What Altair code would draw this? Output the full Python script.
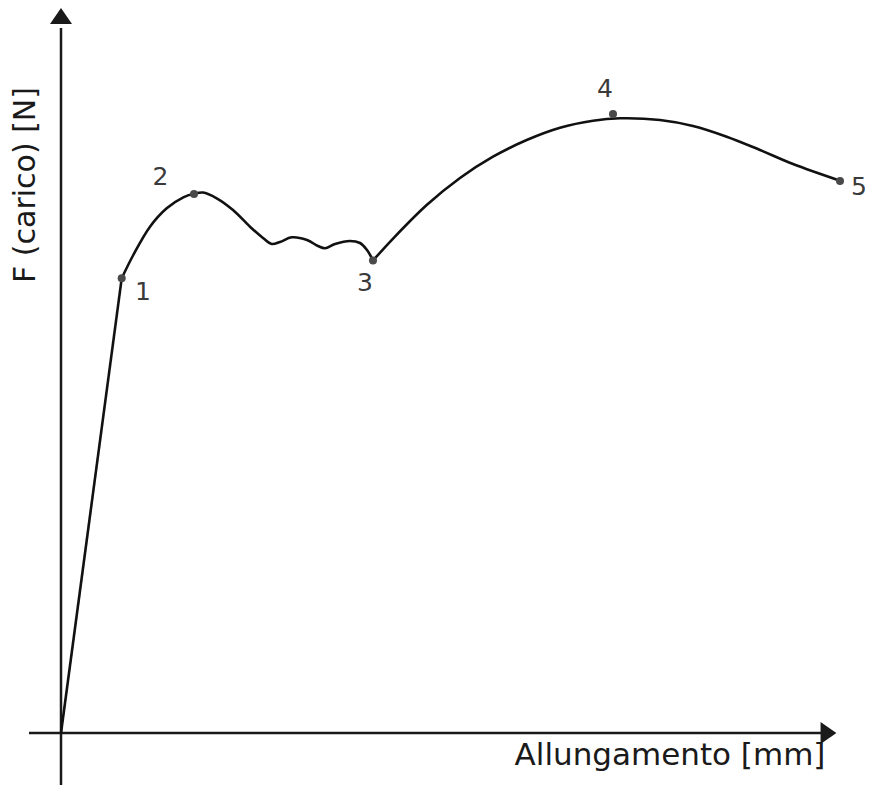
import altair as alt
import pandas as pd

# Curve values (Allungamento, F), arbitrary units
seg_a_x = [0.0, 6.07]
seg_a_y = [0.0, 45.47]

seg_b_x = [6.07, 7.23, 8.9, 10.57, 12.23, 13.3, 14.2, 15.57, 17.2, 18.9, 20.2, 21.07,
           21.9, 23.07, 24.6, 25.7, 26.4, 27.4, 28.9, 29.9, 30.6, 31.2]
seg_b_y = [45.47, 47.8, 50.63, 52.47, 53.57, 53.92, 54.05, 53.47, 52.3, 50.63, 49.5, 48.9,
           49.1, 49.57, 49.3, 48.7, 48.47, 48.9, 49.2, 49.0, 48.3, 47.25]

seg_c_x = [31.2, 33.23, 36.57, 39.9, 43.2, 46.57, 49.9, 53.2, 55.9, 59.9, 63.2, 66.57,
           69.9, 73.2, 77.9]
seg_c_y = [47.25, 49.47, 52.8, 55.5, 57.63, 59.3, 60.53, 61.23, 61.47, 61.3, 60.7, 59.63,
           58.3, 56.9, 55.23]

pt_labels = ["1", "2", "3", "4", "5"]
pt_x = [6.07, 13.3, 31.2, 55.2, 77.9]
pt_y = [45.47, 53.9, 47.25, 61.9, 55.2]
lab_x = [8.2, 9.95, 30.4, 54.4, 79.8]
lab_y = [44.1, 55.6, 45.0, 64.4, 54.6]

x_title = "Allungamento [mm]"
y_title = "F (carico) [N]"

X_DOM = [-5.3, 80.5]
Y_DOM = [-5.2, 72.5]
xs = alt.Scale(domain=X_DOM, nice=False, zero=False)
ys = alt.Scale(domain=Y_DOM, nice=False, zero=False)

rows = []
for seg, xx, yy in (("a", seg_a_x, seg_a_y), ("b", seg_b_x, seg_b_y), ("c", seg_c_x, seg_c_y)):
    for i, (a, b) in enumerate(zip(xx, yy)):
        rows.append({"seg": seg, "o": i, "x": a, "y": b})
curve_df = pd.DataFrame(rows)

pts_df = pd.DataFrame({"x": pt_x, "y": pt_y, "lab": pt_labels, "lx": lab_x, "ly": lab_y})

# axes (drawn as marks)
vaxis = pd.DataFrame({"x": [0.0], "y": [-5.8], "y2": [70.5]})
haxis = pd.DataFrame({"y": [0.0], "x": [-3.2], "x2": [76.0]})
up_arrow = pd.DataFrame({"x": [0.0], "y": [71.7]})
right_arrow = pd.DataFrame({"x": [76.75], "y": [0.0]})
titles_x = pd.DataFrame({"x": [60.9], "y": [-3.2], "t": [x_title]})
titles_y = pd.DataFrame({"x": [-3.5], "y": [54.8], "t": [y_title]})

X = lambda f="x": alt.X(f"{f}:Q", scale=xs, axis=None)
Y = lambda f="y": alt.Y(f"{f}:Q", scale=ys, axis=None)

ink = "#1a1a1a"

v_rule = alt.Chart(vaxis).mark_rule(color=ink, strokeWidth=2.5).encode(
    x=X(), y=Y(), y2="y2:Q")
h_rule = alt.Chart(haxis).mark_rule(color=ink, strokeWidth=2.5).encode(
    x=X(), x2="x2:Q", y=Y())
up = alt.Chart(up_arrow).mark_point(
    shape="M -1 0.72 L 0 -0.72 L 1 0.72 Z", size=484, filled=True,
    color=ink, opacity=1).encode(x=X(), y=Y())
right = alt.Chart(right_arrow).mark_point(
    shape="M -0.72 -1 L 0.72 0 L -0.72 1 Z", size=484, filled=True,
    color=ink, opacity=1).encode(x=X(), y=Y())

curve = alt.Chart(curve_df).mark_line(
    interpolate="catmull-rom", color="#111111", strokeWidth=2.6).encode(
    x=X(), y=Y(), detail="seg:N", order="o:Q")

markers = alt.Chart(pts_df).mark_circle(size=65, color="#4a4a4a", opacity=1).encode(
    x=X(), y=Y())

labels = alt.Chart(pts_df).mark_text(
    font="DejaVu Sans", fontSize=25, color="#3a3a3a", align="center", baseline="middle").encode(
    x=X("lx"), y=Y("ly"), text="lab:N")

tx = alt.Chart(titles_x).mark_text(
    font="DejaVu Sans", fontSize=31, color="#1a1a1a", align="center", baseline="alphabetic").encode(
    x=X(), y=Y(), text="t:N")
ty = alt.Chart(titles_y).mark_text(
    font="DejaVu Sans", fontSize=30, color="#1a1a1a", align="center", baseline="middle",
    angle=270).encode(x=X(), y=Y(), text="t:N")

chart = alt.layer(v_rule, h_rule, up, right, curve, markers, labels, tx, ty).properties(
    width=858, height=777,
    autosize=alt.AutoSizeParams(type="none"),
    padding=0,
    background="white",
).configure_view(stroke=None)

chart.save("out.html", embed_options={"renderer": "svg", "actions": False})
